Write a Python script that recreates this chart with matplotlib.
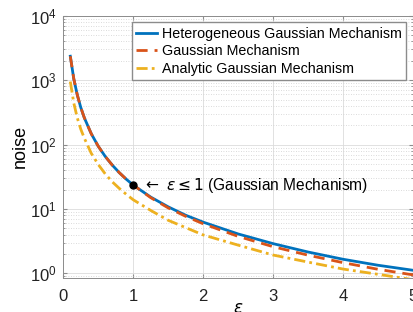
import matplotlib
matplotlib.use("Agg")
import matplotlib.pyplot as plt
from matplotlib.ticker import LogLocator, NullFormatter

# epsilon grid and noise values
eps = [0.1, 0.15, 0.2, 0.25, 0.3, 0.4, 0.5, 0.6, 0.7, 0.8, 0.9, 1.0,
       1.25, 1.5, 1.75, 2.0, 2.5, 3.0, 3.5, 4.0, 4.5, 5.0]
gauss = [2350, 1044, 588, 376, 261, 147, 94, 65.3, 48, 36.7, 29, 23.5,
         15.0, 10.4, 7.7, 5.9, 3.76, 2.6, 1.92, 1.47, 1.16, 0.95]
hetero = [2350, 1044, 588, 376, 261, 147, 94, 65.3, 48, 36.7, 29, 23.5,
          15.3, 10.8, 8.0, 6.25, 4.1, 2.9, 2.15, 1.66, 1.34, 1.12]
analytic = [950, 440, 259, 173, 126, 73, 49, 35, 26.4, 20.9, 16.9, 13.9,
            9.5, 6.68, 5.14, 3.96, 2.75, 1.93, 1.5, 1.17, 0.97, 0.8]

mark_eps = 1.0
mark_val = 23.5

plt.rcParams['font.family'] = ['Liberation Sans', 'DejaVu Sans']
plt.rcParams['font.size'] = 10

fig = plt.figure(figsize=(4.13, 3.12), dpi=100)
ax = fig.add_axes([0.1533, 0.109, 0.8467, 0.8407])

ax.plot(eps, hetero, color="#0072BD", linewidth=2, label="Heterogeneous Gaussian Mechanism")
ax.plot(eps, gauss, color="#D95319", linewidth=2, linestyle=(0, (4, 2.5)), label="Gaussian Mechanism")
ax.plot(eps, analytic, color="#EDB120", linewidth=2, linestyle=(0, (4, 1.5, 1, 1.5)), label="Analytic Gaussian Mechanism")
ax.plot([mark_eps], [mark_val], "o", color="black", markersize=5, zorder=5)
ax.text(mark_eps + 0.12, mark_val, r"$\leftarrow\ \epsilon\leq 1$ (Gaussian Mechanism)",
        va="center", ha="left", fontsize=11.2)

ax.set_yscale("log")
ax.set_xlim(0, 5)
ax.set_ylim(0.85, 1e4)
ax.set_xticks([0, 1, 2, 3, 4, 5])
ax.yaxis.set_major_locator(LogLocator(base=10, numticks=10))
ax.yaxis.set_minor_locator(LogLocator(base=10, subs=range(2, 10), numticks=10))
ax.yaxis.set_minor_formatter(NullFormatter())

ax.grid(which="major", color="#dcdcdc", linewidth=0.6, linestyle="-")
ax.grid(which="minor", axis="y", color="#cfcfcf", linewidth=0.6, linestyle=(0, (1, 2)))
ax.set_axisbelow(True)

for s in ax.spines.values():
    s.set_color("#8c8c8c")
    s.set_linewidth(0.7)
ax.tick_params(which="both", direction="in", colors="#8c8c8c", labelcolor="#222222",
               top=True, right=True, labelsize=12)
ax.tick_params(which="major", length=3)
ax.tick_params(which="minor", length=1.5)
ax.tick_params(axis="x", pad=8)
ax.tick_params(axis="y", pad=5)

ax.set_xlabel(r"$\epsilon$", fontsize=12, labelpad=-2)
ax.set_ylabel("noise", fontsize=13)
ax.yaxis.set_label_coords(-0.10, 0.5)

ax.legend(loc="upper left", bbox_to_anchor=(0.1956, 0.9748), borderaxespad=0,
          fancybox=False, edgecolor="#8c8c8c", framealpha=1, fontsize=10.3,
          handlelength=1.5, handletextpad=0.3, borderpad=0.3, labelspacing=0.25)

fig.savefig("out.png", dpi=100)
